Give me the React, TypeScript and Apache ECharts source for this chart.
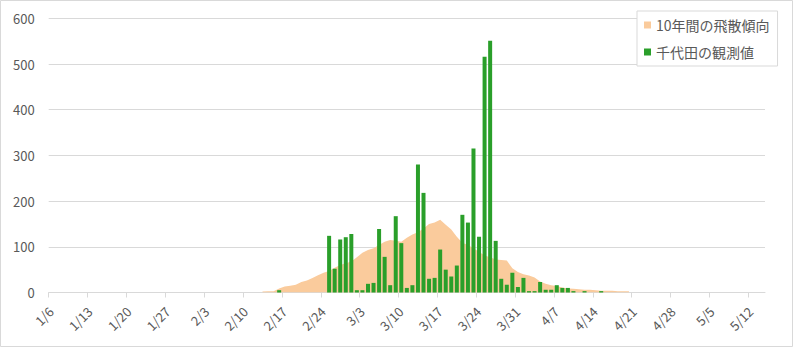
import React, { useEffect, useRef } from "react";
import * as echarts from "echarts";

// Tick labels, one every 7 days starting on 1/6
const tickLabels = ["1/6", "1/13", "1/20", "1/27", "2/3", "2/10", "2/17", "2/24", "3/3", "3/10", "3/17", "3/24", "3/31", "4/7", "4/14", "4/21", "4/28", "5/5", "5/12"];
const totalDays = 129; // 1/6 .. 5/14

// 10-year trend (daily), starting at day index 38 (2/13)
const trendStart = 38;
const trendValues = [2, 3, 3, 9, 13, 15, 17, 23, 26, 32, 38, 43, 47, 54, 60, 64, 68, 77, 87, 93, 97, 104, 111, 115, 113, 111, 120, 127, 132, 140, 150, 153, 159, 148, 138, 122, 109, 104, 97, 89, 81, 77, 72, 71, 70, 53, 45, 40, 37, 33, 24, 19, 16, 14, 11, 9, 8, 7, 6, 6, 5, 4, 4, 4, 3, 3, 3];

// Chiyoda observed values (daily), starting at day index 41 (2/16)
const observedStart = 41;
const observedValues = [5, 0, 0, 0, 0, 0, 0, 0, 0, 124, 52, 116, 121, 128, 5, 5, 19, 21, 139, 78, 16, 167, 108, 10, 16, 280, 218, 30, 32, 94, 50, 35, 59, 170, 153, 315, 122, 516, 551, 113, 30, 17, 43, 12, 32, 3, 3, 23, 6, 6, 16, 10, 10, 3, 0, 3, 0, 0, 3];

const seriesNames = ["10年間の飛散傾向", "千代田の観測値"];

const FONT = "'Noto Sans CJK JP', 'Noto Sans', sans-serif";

export default function App() {
  const ref = useRef<HTMLDivElement>(null);
  useEffect(() => {
    if (!ref.current) return;
    const chart = echarts.init(ref.current, null, { renderer: "svg" });
    const tickValues = tickLabels.map((_, k) => k * 7);
    const labelValues = tickLabels.map((_, k) => k * 7 + 0.4);
    const trendData = trendValues.map((v, k) => [trendStart + k + 0.5, v]);
    const obsData = observedValues
      .map((v, k) => [observedStart + k + 0.5, v])
      .filter((d) => d[1] > 0);
    chart.setOption({
      animation: false,
      textStyle: { fontFamily: FONT },
      grid: { left: 48.7, right: 28, top: 18.3, bottom: 54.5, containLabel: false, outerBoundsMode: "none" },
      legend: {
        orient: "vertical",
        left: 637,
        top: 11,
        padding: [7, 8, 7, 7],
        itemWidth: 7,
        itemHeight: 7,
        itemGap: 13,
        itemTextGap: 6,
        icon: "rect",
        borderColor: "#d9d9d9",
        borderWidth: 1,
        backgroundColor: "#fff",
        textStyle: { color: "#595959", fontSize: 14, lineHeight: 14, fontFamily: FONT },
        data: seriesNames,
      },
      xAxis: {
        type: "value",
        min: 0,
        max: totalDays,
        interval: 7,
        splitLine: { show: false },
        axisLine: { show: true, lineStyle: { color: "#d9d9d9", width: 1 } },
        axisTick: { show: true, length: 5, lineStyle: { color: "#d9d9d9" }, customValues: tickValues },
        axisLabel: {
          customValues: labelValues,
          rotate: 45,
          margin: 16.5,
          color: "#595959",
          fontSize: 13,
          fontFamily: FONT,
          formatter: (v: number) => {
            const k = Math.round(v / 7);
            return k >= 0 && k < tickLabels.length ? tickLabels[k] : "";
          },
        },
      },
      yAxis: {
        type: "value",
        min: 0,
        max: 600,
        interval: 100,
        axisLine: { show: false },
        axisTick: { show: false },
        splitLine: { lineStyle: { color: "#d9d9d9", width: 1 } },
        axisLabel: { color: "#595959", fontSize: 13, margin: 14, fontFamily: FONT },
      },
      series: [
        {
          name: seriesNames[0],
          type: "line",
          data: trendData,
          showSymbol: false,
          symbol: "none",
          color: "#FACB9C",
          lineStyle: { width: 0, color: "#FACB9C" },
          areaStyle: { color: "#FACB9C", opacity: 1 },
          z: 1,
        },
        {
          name: seriesNames[1],
          type: "bar",
          data: obsData,
          barWidth: 4,
          color: "#2A9F2A",
          itemStyle: { color: "#2A9F2A" },
          z: 2,
        },
      ],
      graphic: [
        {
          type: "rect",
          shape: { x: 0.5, y: 0.5, width: 792, height: 346 },
          style: { fill: "none", stroke: "#d9d9d9", lineWidth: 1 },
          silent: true,
          z: 100,
        },
      ],
    });
    return () => chart.dispose();
  }, []);
  return <div ref={ref} style={{ position: "absolute", left: 0, top: 0, width: 793, height: 347 }} />;
}
